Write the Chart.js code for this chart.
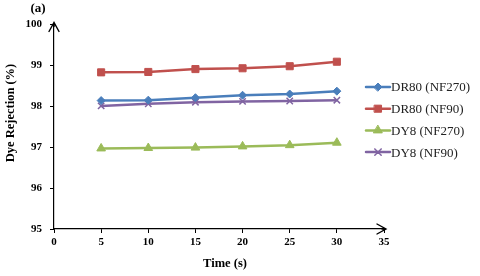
<!DOCTYPE html>
<html><head><meta charset="utf-8">
<script src="https://cdn.jsdelivr.net/npm/chart.js@4/dist/chart.umd.min.js"></script>
<style>html,body{margin:0;padding:0;background:#fff}#w{width:480px;height:276px}</style>
</head><body><div id="w"><canvas id="c" width="480" height="276"></canvas></div>
<script>
const times = [5, 10, 15, 20, 25, 30];
const seriesNames = ['DR80 (NF270)', 'DR80 (NF90)', 'DY8 (NF270)', 'DY8 (NF90)'];
const dr80_nf270 = [98.14, 98.15, 98.21, 98.27, 98.30, 98.37];
const dr80_nf90 = [98.83, 98.84, 98.91, 98.93, 98.98, 99.09];
const dy8_nf270 = [96.97, 96.98, 96.99, 97.02, 97.05, 97.11];
const dy8_nf90 = [98.01, 98.06, 98.10, 98.12, 98.13, 98.15];
const xTicks = [0, 5, 10, 15, 20, 25, 30, 35];
const yTicks = [95, 96, 97, 98, 99, 100];
const xTitle = 'Time (s)';
const yTitle = 'Dye Rejection (%)';
const panelLabel = '(a)';

const colors = ['#4A7EBB', '#C0504D', '#9BBB59', '#8064A2'];
const styles = ['rectRot', 'rect', 'triangle', 'crossRot'];
const radii = [4, 5, 5, 4.5];
const allData = [dr80_nf270, dr80_nf90, dy8_nf270, dy8_nf90];

const datasets = allData.map((arr, i) => ({
  label: seriesNames[i],
  data: arr.map((v, j) => ({x: times[j], y: v})),
  borderColor: colors[i],
  backgroundColor: colors[i],
  borderWidth: 2.5,
  pointStyle: styles[i],
  pointRadius: radii[i],
  pointBorderWidth: i === 3 ? 1.5 : 1,
  pointBorderColor: colors[i],
  pointBackgroundColor: colors[i],
  tension: 0
}));

const serif = '"Liberation Serif", "Times New Roman", serif';

const decor = {
  id: 'decor',
  afterDraw(chart) {
    const ctx = chart.ctx;
    const xs = chart.scales.x, ys = chart.scales.y;
    const L = xs.getPixelForValue(0), R = xs.getPixelForValue(35);
    const T = ys.getPixelForValue(100), B = ys.getPixelForValue(95);
    ctx.save();
    ctx.strokeStyle = '#000000';
    ctx.lineWidth = 1.4;
    ctx.lineCap = 'round';
    ctx.beginPath();
    ctx.moveTo(L - 5, T + 7);
    ctx.lineTo(L, T - 2);
    ctx.lineTo(L + 5, T + 7);
    ctx.moveTo(L, T - 2);
    ctx.lineTo(L, T + 2);
    ctx.moveTo(R - 7, B - 5);
    ctx.lineTo(R + 2, B);
    ctx.lineTo(R - 7, B + 5);
    ctx.moveTo(R - 2, B);
    ctx.lineTo(R + 2, B);
    ctx.stroke();
    ctx.fillStyle = '#000';
    ctx.font = 'bold 12.5px ' + serif;
    ctx.textAlign = 'center'; ctx.textBaseline = 'middle';
    ctx.fillText(xTitle, 225, 264);
    ctx.save();
    ctx.translate(11, 113);
    ctx.rotate(-Math.PI / 2);
    ctx.fillText(yTitle, 0, 0);
    ctx.restore();
    ctx.font = 'bold 13px ' + serif;
    ctx.fillText(panelLabel, 38, 9);
    ctx.font = '13px ' + serif;
    ctx.textAlign = 'left';
    chart.data.datasets.forEach((ds, i) => {
      const y = 87 + i * 21.7;
      ctx.strokeStyle = ds.borderColor;
      ctx.fillStyle = ds.backgroundColor;
      ctx.lineWidth = 2.5;
      ctx.beginPath(); ctx.moveTo(366, y); ctx.lineTo(390, y); ctx.stroke();
      ctx.lineWidth = ds.pointBorderWidth;
      Chart.helpers.drawPoint(ctx, {pointStyle: ds.pointStyle, radius: ds.pointRadius, borderWidth: ds.pointBorderWidth, rotation: 0}, 378, y);
      ctx.fillStyle = '#222';
      ctx.fillText(ds.label, 391, y + 1);
    });
    ctx.restore();
  }
};

new Chart(document.getElementById('c'), {
  type: 'line',
  data: {datasets},
  options: {
    responsive: false,
    animation: false,
    devicePixelRatio: 1,
    layout: {padding: {top: 24.5, right: 96, left: 0, bottom: 0}},
    plugins: {legend: {display: false}, tooltip: {enabled: false}},
    scales: {
      x: {
        type: 'linear', min: 0, max: 35,
        afterBuildTicks: s => { s.ticks = xTicks.map(v => ({value: v})); },
        afterFit: s => { s.height = 276 - 229; },
        grid: {drawOnChartArea: false, drawTicks: true, tickLength: 4, color: '#000'},
        border: {display: true, color: '#000', width: 1.2},
        ticks: {color: '#000', font: {family: serif, size: 11, weight: 'bold'}, padding: 3, maxRotation: 0}
      },
      y: {
        type: 'linear', min: 95, max: 100,
        afterBuildTicks: s => { s.ticks = yTicks.map(v => ({value: v})); },
        afterFit: s => { s.width = 54; },
        grid: {drawOnChartArea: false, drawTicks: true, tickLength: 4, color: '#000'},
        border: {display: true, color: '#000', width: 1.2},
        ticks: {color: '#000', font: {family: serif, size: 11, weight: 'bold'}, padding: 8}
      }
    }
  },
  plugins: [decor]
});
</script>
</body></html>
